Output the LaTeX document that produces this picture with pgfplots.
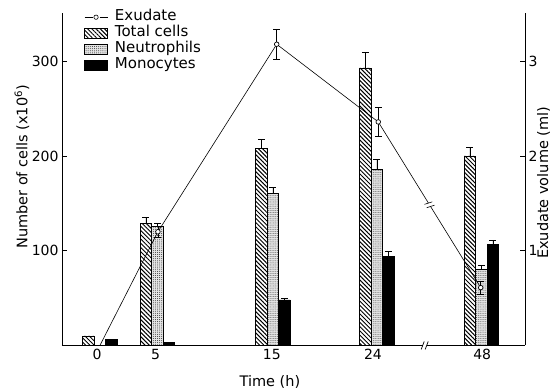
\documentclass[border=0pt]{standalone}
\usepackage{fontspec}
\setmainfont{DejaVu Sans}
\usepackage{pgfplots}
\pgfplotsset{compat=1.18}
\usepackage{pgfplotstable}
\usetikzlibrary{patterns.meta}

\pgfplotstableread{
x y e
-0.76 10 0
4.26 129 6
14.30 208 9
23.35 293 16
32.43 200 9
}\totaltab
\pgfplotstableread{
x y e
5.26 126 3
15.30 160 7
24.35 186 10
33.43 80 4
}\neuttab
\pgfplotstableread{
x y e
1.24 6 0
6.26 3 0
16.30 48 2
25.35 94 5
34.43 107 4
}\monotab
\pgfplotstableread{
x y e
5.30 1.20 0.06
15.63 3.18 0.16
24.46 2.36 0.15
33.37 0.61 0.07
}\exudtab

\tikzset{
  neutfill/.style={fill=black!10, postaction={pattern={Dots[distance=2.1bp,radius=0.5bp]}, pattern color=black!80}},
  hatch/.style={pattern={Lines[angle=-45,distance=3bp,line width=1bp]}},
}
\begin{document}
\begin{tikzpicture}
\pgfplotsset{
  base/.style={scale only axis, width=463bp, height=332.4bp,
    xmin=-3.04, xmax=37.22, at={(0,0)}, anchor=south west,
    /pgf/number format/assume math mode=true,
    tick label style={font=\fontsize{14bp}{16bp}\selectfont},
    label style={font=\fontsize{14.5bp}{17bp}\selectfont},
    tick align=inside, major tick length=5bp,
    axis line style={line width=0.9bp},
    every tick/.style={line width=0.9bp, black},
  },
  bars/.style={ybar, bar shift=0pt, bar width=11.5bp, draw=black, line width=0.8bp,
    error bars/.cd, y dir=plus, y explicit,
    error bar style={line width=0.8bp, black, solid},
    error mark options={rotate=90, mark size=3.5bp, line width=0.8bp, black}},
}
\begin{axis}[base, name=main, clip=false,
  ymin=0, ymax=351,
  axis x line*=bottom, axis y line*=left,
  ytick={100,200,300},
  xtick={0,5.1,15.2,24,33.5}, xticklabels={0,5,15,24,48},
  x tick style={draw=none},
  xlabel={Time (h)}, ylabel={Number of cells (x10\textsuperscript{6})},
  xlabel style={at={(axis description cs:0.449,-0.110)}, anchor=center},
  ylabel style={at={(axis description cs:-0.0864,0.537)}, anchor=center},
]
\addplot[hatch, bars] table[x=x, y=y, y error=e] {\totaltab};
\addplot[neutfill, bars] table[x=x, y=y, y error=e] {\neuttab};
\addplot[fill=black, bars] table[x=x, y=y, y error=e] {\monotab};
\node[inner sep=0pt] at (axis cs:28.5,0) {\tikz{\fill[white] (-2bp,-2bp) rectangle (2bp,2bp); \draw[line width=0.7bp] (-3.5bp,-4bp)--(-0.5bp,4bp) (0.5bp,-4bp)--(3.5bp,4bp);}};
\end{axis}

\begin{axis}[base,
  ymin=0, ymax=3.51,
  axis x line=none, axis y line*=right,
  ytick={1,2,3},
  ylabel={Exudate volume (ml)},
  ylabel style={at={(axis description cs:1.04,0.489)}, anchor=center},
  legend style={at={(0.0475,1.012)}, anchor=north west, draw=none, fill=none,
    font=\fontsize{15bp}{17bp}\selectfont, row sep=0bp, inner sep=0pt,
    nodes={text height=10.5bp, text depth=3.5bp, inner sep=1bp},
    /tikz/every odd column/.append style={column sep=6bp}},
  legend cell align=left,
]
\addlegendimage{legend image code/.code={\draw[line width=0.6bp] (0bp,0bp)--(8bp,0bp) (15bp,0bp)--(23bp,0bp); \draw[line width=0.6bp, fill=white] (11.5bp,0bp) circle (2.2bp);}}
\addlegendentry{Exudate}
\addlegendimage{legend image code/.code={\draw[line width=0.7bp, hatch] (0bp,-5bp) rectangle (23bp,5bp);}}
\addlegendentry{Total cells}
\addlegendimage{legend image code/.code={\draw[line width=0.7bp, neutfill] (0bp,-5bp) rectangle (23bp,5bp);}}
\addlegendentry{Neutrophils}
\addlegendimage{legend image code/.code={\draw[line width=0.7bp, fill=black] (0bp,-5bp) rectangle (23bp,5bp);}}
\addlegendentry{Monocytes}

\addplot[black, line width=0.6bp, mark=none, forget plot] coordinates {(0.26,0) (5.30,1.20) (15.63,3.18) (24.46,2.36) (33.37,0.61)};
\addplot[draw=none, forget plot] coordinates {(24.46,2.36) (33.37,0.61)} node[pos=0.5, sloped, inner sep=0pt] {\tikz{\fill[white] (-2bp,-2.5bp) rectangle (2bp,2.5bp); \draw[line width=0.6bp] (-3bp,-4bp)--(-1bp,4bp) (1bp,-4bp)--(3bp,4bp);}};
\addplot[draw=none, mark=none, forget plot,
  error bars/.cd, y dir=both, y explicit,
  error bar style={line width=0.7bp, black},
  error mark options={rotate=90, mark size=3.5bp, line width=0.7bp, black}]
  table[x=x, y=y, y error=e] {\exudtab};
\addplot[only marks, mark=*, mark size=2.3bp, mark options={fill=white, draw=black, line width=0.7bp}, forget plot]
  table[x=x, y=y] {\exudtab};
\end{axis}
\pgfresetboundingbox
\path[use as bounding box] (-62bp,-45.6bp) rectangle (489bp,345.4bp);
\end{tikzpicture}
\end{document}
